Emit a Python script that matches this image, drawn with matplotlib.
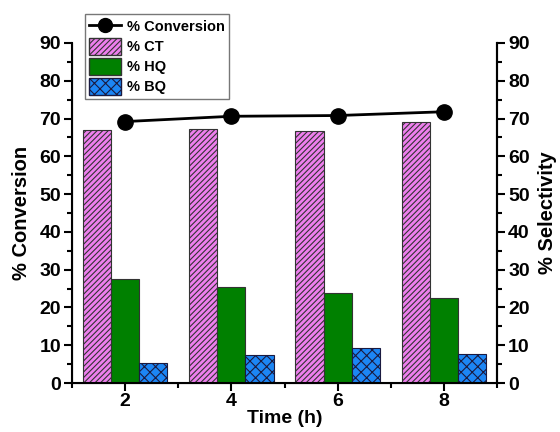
import numpy as np
import matplotlib.pyplot as plt
from matplotlib.lines import Line2D
from matplotlib.patches import Patch

plt.rcParams['font.family'] = ['Liberation Sans', 'DejaVu Sans']
plt.rcParams['font.weight'] = 'bold'
plt.rcParams['hatch.linewidth'] = 0.8

# data
time_h = [2, 4, 6, 8]
conversion = [69.2, 70.6, 70.8, 71.8]
sel_ct = [66.9, 67.2, 66.8, 69.1]
sel_hq = [27.5, 25.4, 23.9, 22.5]
sel_bq = [5.4, 7.3, 9.2, 7.8]

x = np.array(time_h, dtype=float)
w = 0.53

fig = plt.figure(figsize=(5.6, 4.32), dpi=100)
ax = fig.add_axes([0.1286, 0.1134, 0.7589, 0.7871])

ax.bar(x - w, sel_ct, w, color='#ee7fee', edgecolor='#333333', hatch='//////', lw=0.8)
ax.bar(x, sel_hq, w, color='#008000', edgecolor='#333333', lw=0.8)
ax.bar(x + w, sel_bq, w, color='#1c86f5', edgecolor='#1a1a40', hatch='xxx', lw=0.8)
ax.plot(x, conversion, '-o', color='black', lw=2, ms=11, zorder=5, clip_on=False)

ax.set_xlim(1, 9)
ax.set_ylim(0, 90)
ax.set_xticks([2, 4, 6, 8])
ax.set_xticks([1, 3, 5, 7, 9], minor=True)
ax.set_yticks(np.arange(0, 91, 10))
ax.set_yticks(np.arange(5, 90, 10), minor=True)
ax.spines['top'].set_visible(False)
for s in ['left', 'bottom', 'right']:
    ax.spines[s].set_linewidth(1.5)

ax2 = ax.twinx()
ax2.set_ylim(0, 90)
ax2.set_yticks(np.arange(0, 91, 10))
ax2.set_yticks(np.arange(5, 90, 10), minor=True)
ax2.spines['top'].set_visible(False)
ax2.spines['right'].set_linewidth(1.5)

for a in (ax, ax2):
    a.tick_params(which='major', direction='out', length=6, width=1.5, labelsize=14, pad=2)
    a.tick_params(which='minor', direction='out', length=3.5, width=1.5)
ax.tick_params(axis='x', pad=1)

ax.set_xlabel('Time (h)', fontsize=14, fontweight='bold', labelpad=0)
ax.set_ylabel('% Conversion', fontsize=14.5, fontweight='bold', labelpad=6)
ax2.set_ylabel('% Selectivity', fontsize=14.5, fontweight='bold', labelpad=6)

handles = [
    Line2D([0], [0], color='black', marker='o', lw=2, ms=10),
    Patch(facecolor='#ee7fee', edgecolor='#333333', hatch='//////'),
    Patch(facecolor='#008000', edgecolor='#333333'),
    Patch(facecolor='#1c86f5', edgecolor='#1a1a40', hatch='xxx'),
]
labels = ['% Conversion', '% CT', '% HQ', '% BQ']
leg = fig.legend(handles, labels, loc='upper left', bbox_to_anchor=(0.138, 0.985),
                 fontsize=10.5, frameon=True, fancybox=False, edgecolor='#555555',
                 handlelength=2.2, handleheight=1.35, borderpad=0.3, labelspacing=0.25,
                 handletextpad=0.4)
leg.get_frame().set_linewidth(1.0)

fig.savefig('out.png', dpi=100)
